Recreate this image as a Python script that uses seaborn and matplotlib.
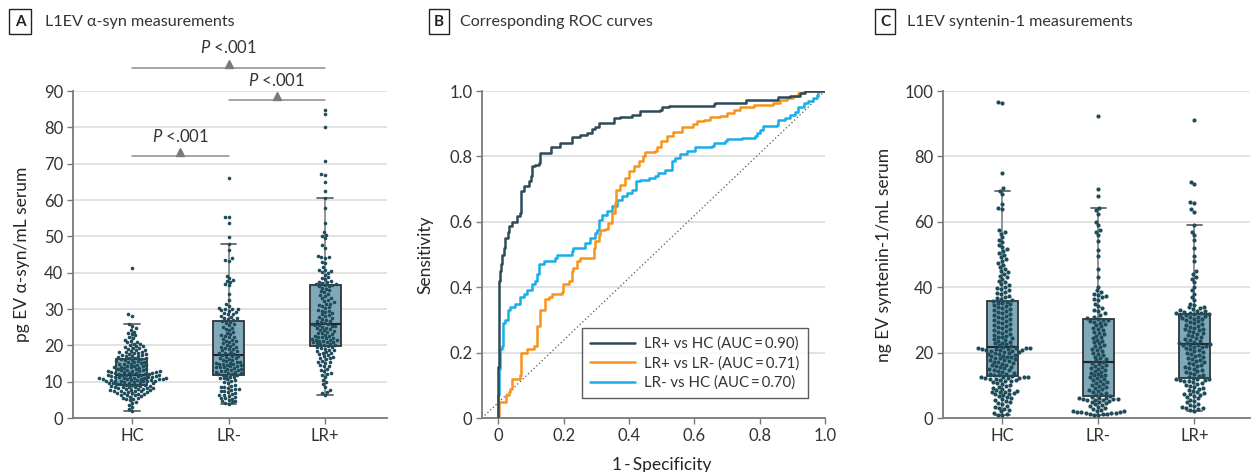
import numpy as np
import pandas as pd
import matplotlib
matplotlib.use('Agg')
import matplotlib.pyplot as plt
import seaborn as sns

groups = ['HC', 'LR-', 'LR+']

# panel A: L1EV alpha-syn, pg/mL
asyn_hc = [2.0, 2.6, 3.1, 3.7, 4.2, 4.5, 4.9, 5.1, 5.3, 5.4, 5.6, 5.9,
           6.0, 6.2, 6.3, 6.4, 6.5, 6.7, 6.8, 6.9,
           7.0, 7.1, 7.2, 7.3, 7.4, 7.5, 7.5, 7.6, 7.7, 7.8, 7.9,
           8.0, 8.1, 8.2, 8.2, 8.3, 8.4, 8.5, 8.5, 8.6, 8.7, 8.8, 8.9,
           9.0, 9.1, 9.1, 9.2, 9.3, 9.4, 9.5, 9.5, 9.6, 9.7, 9.8, 9.9,
           10.0, 10.1, 10.1, 10.2, 10.2, 10.3, 10.3, 10.4, 10.4, 10.5, 10.5,
           10.6, 10.6, 10.7, 10.8, 10.8, 10.9, 10.9,
           11.0, 11.1, 11.1, 11.2, 11.2, 11.3, 11.4, 11.4, 11.5, 11.5, 11.6, 11.7, 11.7,
           11.8, 11.8, 11.9,
           12.0, 12.1, 12.2, 12.2, 12.3, 12.4, 12.4, 12.5, 12.6, 12.6, 12.7, 12.8, 12.9, 12.9,
           13.0, 13.1, 13.2, 13.3, 13.4, 13.5, 13.6, 13.7, 13.8, 13.9,
           14.0, 14.1, 14.2, 14.3, 14.4, 14.6, 14.7, 14.8, 14.9,
           15.0, 15.2, 15.3, 15.4, 15.5, 15.6, 15.8,
           16.0, 16.1, 16.2, 16.3, 16.4, 16.5, 16.6, 16.8,
           17.0, 17.1, 17.2, 17.3, 17.4, 17.5, 17.7, 17.9,
           18.0, 18.1, 18.2, 18.3, 18.5, 18.6, 18.8,
           19.0, 19.2, 19.4, 19.6, 19.7, 19.8,
           20.1, 20.3, 20.5, 20.8, 21.0, 21.2, 21.6, 22.0, 22.3, 22.8,
           23.1, 23.5, 23.8, 24.2, 24.7, 25.3, 25.8, 28.2, 28.6, 41.2]
asyn_lrneg = [3.9, 4.1, 4.3, 4.6, 4.8, 5.0, 5.3, 5.5, 5.6, 5.9, 6.1, 6.3, 6.4, 6.7, 6.9,
              7.1, 7.4, 7.5, 7.7, 7.9, 8.0, 8.3, 8.4, 8.6, 8.9, 9.1, 9.5, 9.8, 10.2, 10.4,
              10.6, 10.9, 11.1, 11.3, 11.4, 11.6,
              11.8, 11.9, 12.0, 12.2, 12.3, 12.5, 12.6, 12.7, 12.9, 13.0, 13.2, 13.3, 13.5,
              13.6, 13.8, 13.9, 14.0, 14.1, 14.2, 14.3, 14.5, 14.6, 14.8, 14.9, 15.0, 15.1,
              15.2, 15.3, 15.5, 15.6, 15.9, 16.1, 16.3, 16.4, 16.6, 16.8,
              17.0, 17.2, 17.3, 17.5, 17.7, 17.9, 18.0, 18.2, 18.4, 18.6, 18.9, 19.1, 19.3,
              19.5, 19.6, 19.8, 20.2, 20.4, 20.6, 20.9, 21.1, 21.3, 21.5, 21.8, 22.2, 22.4,
              22.6, 22.9, 23.1, 23.5, 23.8, 24.2, 24.6, 24.9, 25.1, 25.5, 25.8, 26.2, 26.4, 26.6,
              26.9, 27.2, 27.4, 27.6, 27.9, 28.1, 28.5, 28.7, 28.9, 29.2, 29.5, 29.6, 29.9,
              30.0, 30.1, 30.3, 30.7, 31.5, 32.4, 34.2, 36.5, 36.9, 37.4, 37.8, 38.0, 38.5,
              39.2, 43.3, 43.6, 43.9, 46.2, 47.9, 49.7, 53.8, 55.3, 55.4, 66.0]
asyn_lrpos = [6.3, 6.8, 7.2, 7.6, 8.5, 9.3, 9.8, 10.5, 11.4, 11.8, 12.2, 12.4, 12.8, 13.1,
              13.6, 14.2, 14.4, 14.7, 15.1, 15.3, 15.5, 15.8, 16.2, 16.4, 16.6, 16.9, 17.1,
              17.3, 17.5, 17.8, 18.0, 18.2, 18.4, 18.6, 18.8, 19.1, 19.3, 19.5, 19.6, 19.8,
              20.0, 20.2, 20.3, 20.5, 20.6, 20.8, 20.9, 21.0, 21.2, 21.3, 21.5, 21.5, 21.6,
              21.8, 21.9, 22.0, 22.2, 22.3, 22.5, 22.6, 22.9, 23.1, 23.3, 23.4, 23.7, 23.9,
              24.1, 24.3, 24.4, 24.7, 24.9, 25.1, 25.3, 25.4, 25.5, 25.7, 25.8, 25.9,
              26.1, 26.4, 26.6, 26.8, 27.0, 27.3, 27.5, 27.7, 28.1, 28.3, 28.5, 28.9, 29.1,
              29.4, 29.5, 29.8, 30.2, 30.6, 30.9, 31.1, 31.3, 31.5, 31.8, 32.2, 32.6, 32.9,
              33.1, 33.5, 33.8, 34.2, 34.6, 34.9, 35.1, 35.5, 35.8, 36.2, 36.4, 36.5,
              36.7, 36.8, 36.9, 37.1, 37.3, 37.5, 37.8, 38.2, 38.6, 38.9, 39.4, 40.0, 40.2,
              40.4, 40.6, 40.8, 41.5, 42.6, 43.0, 44.1, 44.3, 44.4, 44.6, 46.8, 47.5, 49.5,
              50.2, 50.5, 51.3, 53.8, 57.8, 60.5, 62.6, 65.0, 67.0, 67.2, 70.7, 80.2, 83.6, 84.8]

# panel C: L1EV syntenin-1, ng/mL
synt_hc = [0.8, 1.0, 1.3, 1.6, 2.0, 2.4, 2.8, 3.1, 3.5, 3.8, 4.2, 4.5, 4.8, 5.1, 5.4, 5.7,
           6.0, 6.3, 6.6, 6.9, 7.2, 7.4, 7.6, 7.8, 8.0, 8.1, 8.3, 8.5, 8.7, 9.0, 9.3, 9.6,
           9.9, 10.2, 10.5, 10.8, 11.0, 11.2, 11.4, 11.6, 11.7, 11.9, 12.0, 12.1, 12.2, 12.3,
           12.4, 12.5, 12.5, 12.6,
           12.8, 13.0, 13.2, 13.4, 13.6, 13.9, 14.1, 14.3, 14.6, 14.8, 15.0, 15.2, 15.5,
           15.7, 15.9, 16.1, 16.3, 16.6, 16.8, 17.0, 17.2, 17.4, 17.6, 17.8, 18.0, 18.2,
           18.4, 18.6, 18.8, 19.0, 19.1, 19.3, 19.5, 19.6, 19.8, 20.0, 20.1, 20.3, 20.4,
           20.6, 20.7, 20.8, 20.9, 21.0, 21.1, 21.2, 21.3, 21.4, 21.5, 21.5,
           21.7, 22.0, 22.2, 22.5, 22.8, 23.0, 23.3, 23.6, 23.9, 24.1, 24.4, 24.7, 24.9,
           25.2, 25.5, 25.8, 26.1, 26.4, 26.7, 27.0, 27.3, 27.6, 27.9, 28.2, 28.5, 28.8,
           29.1, 29.4, 29.7, 30.0, 30.3, 30.6, 30.9, 31.2, 31.5, 31.8, 32.1, 32.4, 32.7,
           33.0, 33.3, 33.6, 33.9, 34.2, 34.5, 34.8, 35.1, 35.3, 35.5, 35.7,
           36.0, 36.3, 36.6, 37.0, 37.4, 37.8, 38.2, 38.6, 39.0, 39.4, 39.8, 40.2, 40.6,
           41.0, 41.5, 42.0, 42.5, 43.0, 43.5, 44.0, 44.5, 45.0, 45.6, 46.2, 46.8, 47.4,
           48.0, 48.6, 49.2, 49.8, 50.4, 51.0, 51.6, 52.3, 53.0, 53.8, 54.5, 55.2, 56.4,
           56.8, 57.5, 64.0, 64.2, 65.5, 68.5, 69.5, 70.4, 74.9, 96.3, 96.5]
synt_lrneg = [0.8, 1.0, 1.1, 1.2, 1.3, 1.4, 1.5, 1.6, 1.7, 1.8, 1.9, 2.0, 2.1, 2.2, 2.4,
              2.7, 3.0, 3.3, 3.6, 3.9, 4.2, 4.5, 4.8, 5.0, 5.2, 5.4, 5.5, 5.6, 5.7, 5.8,
              5.9, 6.0, 6.1, 6.2, 6.4,
              6.7, 7.0, 7.3, 7.6, 7.9, 8.2, 8.5, 8.8, 9.1, 9.4, 9.7, 10.0, 10.3, 10.6, 10.9,
              11.2, 11.5, 11.8, 12.1, 12.4, 12.7, 13.0, 13.3, 13.6, 13.9, 14.2, 14.5, 14.8,
              15.1, 15.4, 15.7, 16.0, 16.3, 16.6, 16.9,
              17.2, 17.6, 18.0, 18.4, 18.8, 19.2, 19.6, 20.0, 20.4, 20.8, 21.2, 21.6, 22.0,
              22.4, 22.8, 23.2, 23.6, 24.0, 24.4, 24.8, 25.2, 25.6, 26.0, 26.4, 26.8, 27.2,
              27.6, 28.0, 28.4, 28.8, 29.2, 29.5, 29.8, 30.0, 30.1,
              30.4, 30.7, 31.0, 31.5, 32.0, 32.8, 33.0, 33.5, 34.2, 35.0, 36.0, 36.5, 36.9,
              37.3, 37.6, 38.0, 38.5, 39.0, 40.2, 43.0, 45.5, 49.5, 51.5, 54.0, 56.0, 57.0,
              57.5, 59.0, 60.0, 62.5, 63.5, 64.3, 68.0, 70.0, 92.5]
synt_lrpos = [2.2, 2.5, 2.8, 3.0, 3.2, 3.4, 3.6, 4.0, 4.4, 4.8, 5.2, 5.6, 6.0, 6.4, 6.8,
              7.0, 7.2, 7.4, 7.6, 7.8, 8.2, 8.6, 9.0, 9.3, 9.6, 9.9, 10.2, 10.5, 10.8, 11.0,
              11.2, 11.4, 11.6, 11.7, 11.8, 11.9, 12.0,
              12.3, 12.6, 12.9, 13.2, 13.5, 13.8, 14.1, 14.4, 14.7, 15.0, 15.3, 15.6, 15.9,
              16.2, 16.5, 16.8, 17.1, 17.4, 17.7, 18.0, 18.3, 18.6, 18.9, 19.2, 19.5, 19.8,
              20.1, 20.4, 20.7, 21.0, 21.3, 21.6, 21.8, 22.0, 22.2, 22.3, 22.4,
              22.6, 22.8, 23.0, 23.3, 23.6, 23.9, 24.2, 24.5, 24.8, 25.1, 25.4, 25.7, 26.0,
              26.3, 26.6, 26.9, 27.1, 27.3, 27.6, 27.9, 28.2, 28.5, 28.8, 29.1, 29.4, 29.7,
              30.0, 30.2, 30.4, 30.6, 30.8, 31.0, 31.2, 31.4, 31.6, 31.7, 31.8,
              32.0, 32.1, 32.2, 32.4, 32.6, 32.8, 33.0, 33.3, 33.6, 33.8, 34.0, 34.5, 35.0,
              36.0, 37.0, 38.0, 39.0, 40.0, 41.5, 42.5, 43.0, 44.0, 45.0, 48.0, 49.5, 52.0,
              54.5, 56.0, 57.0, 59.1, 63.1, 63.8, 65.6, 66.0, 71.5, 72.3, 91.1]

# panel B: ROC curves (false positive rate, sensitivity)
roc_labels = ['LR+ vs HC (AUC\u2009=\u20090.90)', 'LR+ vs LR- (AUC\u2009=\u20090.71)',
              'LR- vs HC (AUC\u2009=\u20090.70)']
fpr_pos_hc = [0, 0, 0.002, 0.005, 0.006, 0.008, 0.011, 0.016, 0.021, 0.028, 0.032, 0.042,
              0.057, 0.067, 0.069, 0.077, 0.093, 0.101, 0.103, 0.113, 0.125, 0.126, 0.159,
              0.161, 0.185, 0.190, 0.220, 0.225, 0.246, 0.251, 0.271, 0.286, 0.297, 0.307,
              0.348, 0.353, 0.373, 0.409, 0.434, 0.495, 0.500, 0.521, 0.659, 0.664, 0.755,
              0.758, 0.852, 0.857, 0.893, 0.924, 0.94, 1.0]
tpr_pos_hc = [0, 0.155, 0.42, 0.44, 0.45, 0.47, 0.50, 0.52, 0.55, 0.57, 0.587, 0.60, 0.617,
              0.627, 0.693, 0.709, 0.724, 0.739, 0.77, 0.775, 0.78, 0.81, 0.81, 0.83, 0.83,
              0.84, 0.84, 0.86, 0.86, 0.866, 0.873, 0.883, 0.891, 0.903, 0.903, 0.917, 0.922,
              0.927, 0.94, 0.942, 0.95, 0.955, 0.959, 0.962, 0.964, 0.973, 0.973, 0.981,
              0.985, 0.993, 1.0, 1.0]
fpr_pos_neg = [0, 0.002, 0.021, 0.024, 0.032, 0.035, 0.042, 0.057, 0.067, 0.070, 0.088,
               0.108, 0.118, 0.126, 0.144, 0.154, 0.164, 0.195, 0.198, 0.215, 0.225, 0.230,
               0.241, 0.251, 0.286, 0.292, 0.297, 0.307, 0.312, 0.327, 0.337, 0.348, 0.358,
               0.361, 0.373, 0.388, 0.399, 0.414, 0.429, 0.444, 0.450, 0.480, 0.485, 0.497,
               0.516, 0.536, 0.562, 0.597, 0.608, 0.628, 0.648, 0.679, 0.699, 0.720, 0.740,
               0.781, 0.842, 0.862, 0.883, 0.903, 0.918, 0.934, 1.0]
tpr_pos_neg = [0, 0.05, 0.05, 0.07, 0.08, 0.09, 0.12, 0.12, 0.13, 0.20, 0.21, 0.22, 0.28,
               0.33, 0.365, 0.37, 0.38, 0.385, 0.41, 0.42, 0.45, 0.46, 0.48, 0.49, 0.49, 0.52,
               0.54, 0.56, 0.575, 0.577, 0.597, 0.627, 0.658, 0.698, 0.714, 0.734, 0.754,
               0.77, 0.785, 0.80, 0.812, 0.815, 0.83, 0.846, 0.861, 0.876, 0.891, 0.899,
               0.907, 0.912, 0.919, 0.924, 0.932, 0.942, 0.952, 0.957, 0.962, 0.973, 0.978,
               0.985, 0.995, 1.0, 1.0]
fpr_neg_hc = [0, 0, 0.003, 0.004, 0.011, 0.014, 0.021, 0.029, 0.037, 0.052, 0.067, 0.077,
              0.088, 0.103, 0.113, 0.118, 0.123, 0.139, 0.174, 0.179, 0.225, 0.230, 0.261,
              0.266, 0.281, 0.297, 0.302, 0.307, 0.317, 0.332, 0.348, 0.363, 0.378, 0.393,
              0.409, 0.422, 0.434, 0.460, 0.480, 0.490, 0.511, 0.531, 0.541, 0.557, 0.577,
              0.602, 0.653, 0.659, 0.694, 0.699, 0.745, 0.786, 0.791, 0.801, 0.811, 0.852,
              0.857, 0.878, 0.893, 0.908, 0.918, 0.934, 0.949, 0.964, 0.975, 0.977, 1.0]
tpr_neg_hc = [0, 0.07, 0.15, 0.21, 0.22, 0.29, 0.30, 0.33, 0.34, 0.35, 0.37, 0.38, 0.39,
              0.41, 0.42, 0.44, 0.47, 0.48, 0.49, 0.50, 0.51, 0.52, 0.52, 0.535, 0.55, 0.565,
              0.575, 0.607, 0.622, 0.632, 0.648, 0.668, 0.678, 0.688, 0.698, 0.724, 0.729,
              0.734, 0.739, 0.749, 0.759, 0.785, 0.795, 0.808, 0.815, 0.828, 0.832, 0.84,
              0.846, 0.853, 0.856, 0.861, 0.871, 0.881, 0.893, 0.896, 0.912, 0.917, 0.927,
              0.937, 0.952, 0.962, 0.968, 0.978, 0.988, 1.0, 1.0]

box_fill = '#7fa8b9'
dot_col = '#1f4c5b'
roc_cols = ['#2d4b58', '#f7941d', '#18afe9']
axis_col = '#7a7a7a'
txt_col = '#333333'

sns.set_theme(style='white')
plt.rcParams['font.family'] = ['Lato', 'DejaVu Sans']
plt.rcParams['mathtext.fontset'] = 'custom'
plt.rcParams['mathtext.it'] = 'Lato:italic'
plt.rcParams['mathtext.rm'] = 'Lato'
plt.rcParams['text.color'] = txt_col


def long_df(a, b, c):
    return pd.DataFrame({'group': ['HC'] * len(a) + ['LR-'] * len(b) + ['LR+'] * len(c),
                         'value': a + b + c})


def style_axis(ax):
    sns.despine(ax=ax)
    for s in ['left', 'bottom']:
        ax.spines[s].set_color(axis_col)
        ax.spines[s].set_linewidth(1.3)
    ax.yaxis.grid(True, color='#dddddd', lw=1.2)
    ax.set_axisbelow(True)
    ax.tick_params(axis='both', length=4, width=1, color=axis_col, labelsize=12,
                   labelcolor=txt_col, pad=3, left=True, bottom=True)


def box_swarm(ax, df, dot_size):
    sns.boxplot(data=df, x='group', y='value', order=groups, width=0.32, showfliers=False,
                color=box_fill, saturation=1, linewidth=1.3, linecolor='#333333',
                whiskerprops=dict(color='#8a8a8a'), capprops=dict(color='#666666'),
                medianprops=dict(color='#2a2222', linewidth=1.5), ax=ax)
    sns.swarmplot(data=df, x='group', y='value', order=groups, color=dot_col, size=dot_size,
                  linewidth=0, ax=ax, zorder=3)
    ax.set_xlabel('')
    style_axis(ax)


fig = plt.figure(figsize=(12.52, 4.72), dpi=100)
bot, h = 0.1144, 0.6928
axA = fig.add_axes([0.0583, bot, 0.2508, h])
axB = fig.add_axes([0.3850, bot, 0.2740, h])
axC = fig.add_axes([0.7532, bot, 0.2452, h])

# A
box_swarm(axA, long_df(asyn_hc, asyn_lrneg, asyn_lrpos), 2.6)
axA.set_ylim(0, 90)
axA.set_yticks(range(0, 91, 10))
axA.set_xlim(-0.61, 2.64)
axA.set_ylabel('pg EV \u03b1-syn/mL serum', fontsize=12.5)
axA.yaxis.set_label_coords(-0.137, 0.5)

brackets = [(0, 1, 72.0, 77.6), (1, 2, 87.5, 92.9), (0, 2, 96.3, 102.1)]
for x0, x1, y, yt in brackets:
    axA.plot([x0, x1], [y, y], color='#8c8c8c', lw=1.1, clip_on=False)
    axA.plot((x0 + x1) / 2, y + 1.1, marker='^', ms=6, color='#7a7a7a', clip_on=False)
    axA.text((x0 + x1) / 2, yt, '$P$ <.001', ha='center', va='center', fontsize=12,
             clip_on=False)

# B
axB.plot([0, 1], [0, 1], transform=axB.transAxes, ls=(0, (1, 2)), color='#555555', lw=0.9)
roc = [(fpr_pos_hc, tpr_pos_hc), (fpr_pos_neg, tpr_pos_neg), (fpr_neg_hc, tpr_neg_hc)]
for (fx, ty), lab, col, z in zip(roc, roc_labels, roc_cols, [4, 3, 2]):
    sns.lineplot(x=fx, y=ty, sort=False, estimator=None, drawstyle='steps-post', color=col,
                 lw=1.8, label=lab, ax=axB, zorder=z)
axB.set_xlim(-0.05, 1.0)
axB.set_ylim(0, 1.0)
ticks = [0, 0.2, 0.4, 0.6, 0.8, 1.0]
tick_txt = ['0', '0.2', '0.4', '0.6', '0.8', '1.0']
axB.set_xticks(ticks, tick_txt)
axB.set_yticks(ticks, tick_txt)
style_axis(axB)
axB.set_xlabel('1\u2009-\u2009Specificity', fontsize=12.5)
axB.set_ylabel('Sensitivity', fontsize=12.5)
axB.xaxis.set_label_coords(0.525, -0.118)
axB.yaxis.set_label_coords(-0.143, 0.5)
leg = axB.legend(loc='lower right', bbox_to_anchor=(0.971, 0.037), frameon=True,
                 fancybox=False, edgecolor='#333333', fontsize=10.8, handlelength=3.0,
                 borderpad=0.55, labelspacing=0.35, handletextpad=0.6)
leg.get_frame().set_linewidth(1.0)

# C
box_swarm(axC, long_df(synt_hc, synt_lrneg, synt_lrpos), 3.0)
axC.set_ylim(0, 100)
axC.set_yticks(range(0, 101, 20))
axC.set_xlim(-0.62, 2.58)
axC.set_ylabel('ng EV syntenin-1/mL serum', fontsize=12.5)
axC.yaxis.set_label_coords(-0.165, 0.5)

# panel headers
heads = [(20, 45, 'A', 'L1EV \u03b1-syn measurements'),
         (439, 460, 'B', 'Corresponding ROC curves'),
         (885, 907, 'C', 'L1EV syntenin-1 measurements')]
for xb, xt, letter, title in heads:
    fig.text(xb / 1252, 0.954, letter, fontsize=11, fontweight='bold', ha='center',
             va='center', color='#222222',
             bbox=dict(boxstyle='square,pad=0.35', fc='white', ec='#222222', lw=1))
    fig.text(xt / 1252, 0.954, title, fontsize=11.6, ha='left', va='center', color=txt_col)

fig.savefig('out.png', dpi=100)
